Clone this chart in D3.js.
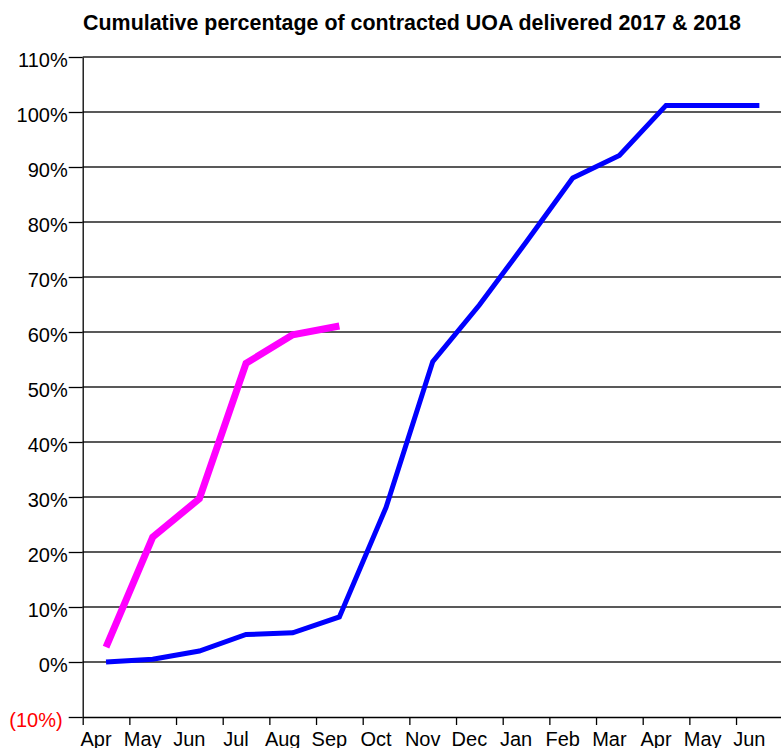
<!DOCTYPE html>
<html lang="en">
<head>
  <meta charset="UTF-8">
  <title>Cumulative percentage of contracted UOA delivered 2017 &amp; 2018</title>
  <script src="https://d3js.org/d3.v7.min.js"></script>
  <style>
    body { margin: 0; background: white; font-family: "Liberation Sans", Arial, sans-serif; }
    svg { display: block; }
    .grid line { stroke: #222; stroke-width: 1.3px; }
    .axis path, .axis line { stroke: #000; stroke-width: 1.3px; }
    .axis text { font-size: 20px; font-family: "Liberation Sans", Arial, sans-serif; }
  </style>
</head>
<body>
  <svg id="chart" width="781" height="748"></svg>

  <script>
    const months = ["Apr", "May", "Jun", "Jul", "Aug", "Sep", "Oct", "Nov", "Dec", "Jan", "Feb", "Mar", "Apr", "May", "Jun"];
    // cumulative % delivered
    const delivered2017 = [0, 0.5, 2.0, 5.0, 5.3, 8.2, 28.1, 54.6, 64.9, 76.3, 88.0, 92.1, 101.2, 101.2, 101.2];
    const delivered2018 = [2.7, 22.7, 29.7, 54.3, 59.5, 61.1];
    const yTicks = [-10, 0, 10, 20, 30, 40, 50, 60, 70, 80, 90, 100, 110];

    const svg = d3.select("#chart");
    const plotLeft = 82.7, plotRight = 782.7, plotTop = 57, plotBottom = 717;

    // x: one slot per month, data points sit in the middle of the slot
    const x = d3.scaleLinear().domain([0, months.length]).range([plotLeft, plotRight]);
    const y = d3.scaleLinear().domain([-10, 110]).range([plotBottom, plotTop]);

    svg.append("text")
      .attr("x", 412)
      .attr("y", 30)
      .attr("text-anchor", "middle")
      .style("font-size", "21.4px")
      .style("font-weight", "bold")
      .text("Cumulative percentage of contracted UOA delivered 2017 & 2018");

    // horizontal gridlines
    svg.append("g").attr("class", "grid")
      .selectAll("line")
      .data(yTicks.filter(d => d > -10))
      .join("line")
      .attr("x1", plotLeft).attr("x2", plotRight)
      .attr("y1", d => y(d)).attr("y2", d => y(d));

    // y axis, negative label in red brackets
    const yAxis = svg.append("g").attr("class", "axis")
      .attr("transform", `translate(${plotLeft},0)`)
      .call(d3.axisLeft(y).tickValues(yTicks).tickSize(14).tickSizeOuter(0).tickPadding(1)
        .tickFormat(d => d < 0 ? `(${-d}%)` : `${d}%`));
    yAxis.selectAll(".tick text")
      .attr("dy", "0.45em")
      .attr("dx", d => d < 0 ? -5 : 0)
      .style("fill", d => d < 0 ? "#ff0000" : "#000");

    // x axis: ticks on the slot boundaries
    const xAxis = svg.append("g").attr("class", "axis")
      .attr("transform", `translate(0,${plotBottom})`)
      .call(d3.axisBottom(x).tickValues(d3.range(months.length + 1)).tickSize(8).tickSizeOuter(0).tickFormat(""));

    xAxis.selectAll(".month")
      .data(months)
      .join("text")
      .attr("class", "month")
      .attr("x", (d, i) => x(i + 0.5) - 10)
      .attr("y", 29)
      .attr("text-anchor", "middle")
      .style("fill", "#000")
      .text(d => d);

    const line = d3.line()
      .x((d, i) => x(i + 0.5))
      .y(d => y(d));

    svg.append("path")
      .datum(delivered2017)
      .attr("fill", "none")
      .attr("stroke", "#0000ff")
      .attr("stroke-width", 5)
      .attr("d", line);

    svg.append("path")
      .datum(delivered2018)
      .attr("fill", "none")
      .attr("stroke", "#ff00ff")
      .attr("stroke-width", 7)
      .attr("d", line);
  </script>
</body>
</html>
